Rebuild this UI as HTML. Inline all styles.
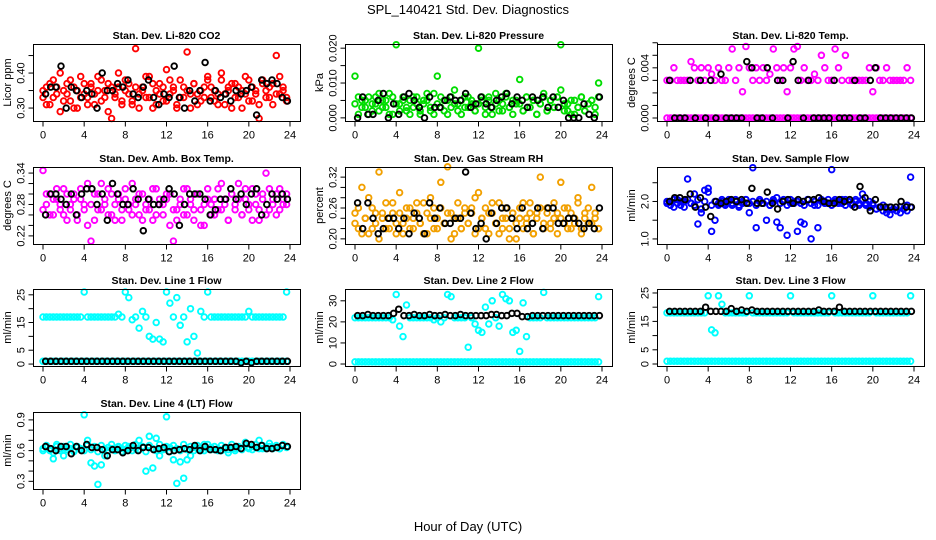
<!DOCTYPE html>
<html><head><meta charset="utf-8">
<style>
html,body{margin:0;padding:0;background:#fff;}
svg{display:block;font-family:"Liberation Sans",sans-serif;}
</style></head>
<body>
<svg id="chart" width="936" height="540" viewBox="0 0 936 540" xmlns="http://www.w3.org/2000/svg">
<rect x="0" y="0" width="936" height="540" fill="#fff"/>
<text x="468" y="14" font-size="13" text-anchor="middle">SPL_140421  Std. Dev. Diagnostics</text>
<text x="468" y="531" font-size="13" text-anchor="middle">Hour of Day (UTC)</text>
</svg>
<script>
// ---- data ----
const xTicks = [0,4,8,12,16,20,24];
const coA=[0.33,0.36,0.31,0.38,0.34,0.29,0.35,0.37,0.32,0.36,0.30,0.39,0.34,0.33,0.37,0.31,0.35,0.38,0.33,0.29,0.36,0.34,0.40,0.32,0.35,0.37,0.31,0.47,0.34,0.36,0.33,0.39,0.30,0.35,0.37,0.32,0.41,0.34,0.36,0.31,0.38,0.33,0.35,0.30,0.37,0.34,0.32,0.36,0.39,0.33,0.35,0.31,0.38,0.34,0.36,0.30,0.37,0.33,0.35,0.39,0.32,0.36,0.34,0.31,0.38,0.35,0.33,0.37,0.45,0.34,0.36,0.32];
const coB=[0.35,0.31,0.37,0.33,0.36,0.40,0.32,0.34,0.38,0.30,0.35,0.33,0.37,0.31,0.36,0.34,0.39,0.32,0.35,0.37,0.27,0.33,0.36,0.31,0.38,0.34,0.32,0.36,0.30,0.35,0.39,0.33,0.37,0.31,0.34,0.36,0.32,0.38,0.35,0.30,0.33,0.36,0.46,0.34,0.37,0.31,0.35,0.33,0.38,0.36,0.32,0.34,0.40,0.31,0.35,0.37,0.33,0.36,0.30,0.34,0.38,0.32,0.35,0.27,0.37,0.33,0.36,0.31,0.34,0.39,0.35,0.33];
const coK=[0.34,0.36,0.36,0.42,0.30,0.36,0.35,0.33,0.35,0.34,0.30,0.40,0.35,0.35,0.37,0.36,0.38,0.34,0.33,0.36,0.38,0.33,0.31,0.34,0.33,0.42,0.33,0.30,0.35,0.32,0.35,0.43,0.32,0.35,0.33,0.34,0.32,0.35,0.34,0.35,0.36,0.28,0.38,0.37,0.38,0.37,0.33,0.32];
const prA=[0.012,0.006,0.003,0.005,0.001,0.004,0.006,0.002,0.005,0.003,0.007,0.001,0.021,0.004,0.006,0.002,0.005,0.003,0.006,0.001,0.004,0.005,0.002,0.007,0.012,0.003,0.005,0.001,0.006,0.004,0.002,0.005,0.003,0.006,0.004,0.002,0.020,0.005,0.003,0.006,0.001,0.004,0.005,0.002,0.007,0.003,0.005,0.004,0.011,0.002,0.006,0.003,0.005,0.001,0.004,0.006,0.002,0.005,0.003,0.006,0.021,0.002,0.004,0.001,0.005,0.003,0.006,0.002,0.004,0.005,0.001,0.010];
const prB=[0.004,0.001,0.005,0.003,0.006,0.002,0.004,0.007,0.003,0.005,0.001,0.006,0.004,0.002,0.005,0.003,0.001,0.006,0.004,0.002,0.005,0.007,0.003,0.001,0.004,0.006,0.002,0.005,0.003,0.008,0.004,0.001,0.006,0.003,0.005,0.002,0.004,0.006,0.001,0.005,0.003,0.007,0.002,0.004,0.006,0.003,0.001,0.005,0.004,0.002,0.006,0.003,0.005,0.001,0.004,0.007,0.002,0.005,0.003,0.006,0.008,0.004,0.002,0.005,0.001,0.003,0.006,0.002,0.004,0.005,0.003,0.006];
const prK=[0.000,0.006,0.001,0.001,0.005,0.007,0.000,0.004,0.001,0.006,0.007,0.005,0.003,0.000,0.006,0.003,0.003,0.005,0.006,0.005,0.005,0.007,0.003,0.004,0.006,0.004,0.003,0.005,0.006,0.007,0.004,0.006,0.005,0.003,0.006,0.005,0.006,0.003,0.006,0.003,0.005,0.000,0.000,0.000,0.004,0.001,0.000,0.006];
const teA=[0.003,0.003,0.004,0.003,0.003,0.003,0.003,0.0045,0.004,0.003,0.004,0.003,0.004,0.0035,0.003,0.004,0.003,0.003,0.004,0.0055,0.003,0.004,0.0021,0.0057,0.004,0.003,0.004,0.003,0.004,0.003,0.0035,0.0055,0.004,0.003,0.004,0.0021,0.004,0.0055,0.0057,0.003,0.004,0.003,0.003,0.0035,0.003,0.005,0.004,0.003,0.003,0.0055,0.004,0.003,0.005,0.003,0.003,0.003,0.003,0.003,0.003,0.004,0.0021,0.004,0.003,0.003,0.004,0.003,0.003,0.003,0.003,0.003,0.004,0.003];
const teB=[0,0,0,0,0,0,0,0,0,0,0,0,0,0,0,0,0,0,0,0,0,0,0,0,0,0,0,0,0,0,0,0,0,0,0,0,0,0,0,0,0,0,0,0,0,0,0,0,0,0,0,0,0,0,0,0,0,0,0,0,0,0,0,0,0,0,0,0,0,0,0,0];
const teK=[0.003,0,0,0,0.003,0,0.003,0,0.003,0,0.0035,0,0,0,0,0.0045,0.004,0,0,0.004,0,0.003,0.003,0,0.0045,0.003,0,0.003,0,0,0,0,0.003,0,0,0,0.003,0,0,0.003,0.004,0,0,0,0,0,0,0];
const amA=[0.27,0.30,0.26,0.29,0.31,0.28,0.26,0.30,0.27,0.29,0.25,0.31,0.28,0.24,0.21,0.30,0.27,0.32,0.28,0.26,0.30,0.25,0.29,0.27,0.31,0.28,0.26,0.29,0.30,0.25,0.28,0.27,0.31,0.26,0.29,0.28,0.30,0.24,0.21,0.27,0.29,0.26,0.31,0.28,0.25,0.30,0.27,0.24,0.29,0.28,0.26,0.31,0.27,0.29,0.25,0.30,0.28,0.32,0.26,0.29,0.27,0.31,0.28,0.25,0.30,0.34,0.27,0.29,0.26,0.31,0.28,0.30];
const amB=[0.345,0.28,0.30,0.26,0.29,0.27,0.31,0.25,0.28,0.30,0.26,0.29,0.27,0.32,0.28,0.25,0.30,0.27,0.29,0.31,0.26,0.28,0.30,0.25,0.29,0.27,0.32,0.28,0.26,0.30,0.27,0.29,0.25,0.31,0.28,0.26,0.29,0.30,0.27,0.25,0.28,0.31,0.26,0.29,0.27,0.30,0.24,0.28,0.31,0.26,0.29,0.27,0.32,0.28,0.25,0.30,0.27,0.29,0.26,0.31,0.28,0.25,0.30,0.27,0.29,0.26,0.31,0.28,0.30,0.27,0.29,0.28];
const amK=[0.26,0.30,0.30,0.29,0.28,0.30,0.26,0.30,0.31,0.31,0.28,0.30,0.25,0.32,0.30,0.28,0.28,0.31,0.29,0.23,0.29,0.28,0.28,0.29,0.31,0.30,0.24,0.28,0.30,0.30,0.30,0.29,0.26,0.27,0.29,0.29,0.31,0.29,0.30,0.28,0.30,0.31,0.26,0.28,0.30,0.29,0.30,0.29];
const rhA=[0.23,0.26,0.21,0.24,0.28,0.22,0.25,0.20,0.24,0.27,0.22,0.25,0.23,0.29,0.21,0.24,0.26,0.22,0.25,0.23,0.27,0.21,0.24,0.26,0.22,0.31,0.23,0.25,0.20,0.24,0.27,0.22,0.25,0.23,0.26,0.21,0.29,0.24,0.22,0.25,0.27,0.23,0.21,0.24,0.26,0.22,0.25,0.20,0.24,0.27,0.23,0.25,0.21,0.24,0.26,0.22,0.25,0.23,0.27,0.21,0.24,0.26,0.22,0.25,0.23,0.28,0.22,0.24,0.26,0.23,0.25,0.22];
const rhB=[0.25,0.22,0.30,0.24,0.21,0.26,0.23,0.33,0.25,0.22,0.24,0.27,0.21,0.25,0.23,0.26,0.22,0.24,0.27,0.23,0.21,0.25,0.28,0.22,0.24,0.26,0.23,0.34,0.25,0.21,0.24,0.22,0.26,0.23,0.25,0.28,0.22,0.24,0.26,0.21,0.25,0.23,0.27,0.22,0.24,0.20,0.25,0.23,0.26,0.22,0.24,0.27,0.21,0.25,0.32,0.23,0.26,0.22,0.24,0.25,0.31,0.23,0.26,0.22,0.24,0.27,0.21,0.25,0.23,0.30,0.24,0.22];
const rhK=[0.27,0.22,0.27,0.24,0.21,0.22,0.24,0.24,0.22,0.24,0.21,0.25,0.24,0.21,0.27,0.24,0.26,0.23,0.23,0.24,0.24,0.33,0.25,0.22,0.23,0.20,0.25,0.23,0.26,0.26,0.24,0.22,0.26,0.22,0.23,0.26,0.22,0.26,0.26,0.23,0.23,0.24,0.24,0.23,0.22,0.23,0.22,0.26];
const sfA=[1.95,2.0,1.85,2.05,1.9,2.0,2.6,1.95,2.2,1.4,1.8,2.3,2.25,1.2,1.5,1.9,2.0,1.95,2.05,1.9,2.0,1.85,1.95,2.05,1.7,2.9,1.3,2.0,1.95,1.5,1.9,2.0,1.45,1.3,2.05,1.1,1.95,2.0,1.2,1.95,1.4,2.05,1.0,1.9,1.3,2.0,1.95,2.05,2.85,2.0,1.95,2.05,1.9,2.0,1.95,2.05,1.9,2.2,1.95,2.0,1.9,1.8,1.85,1.75,1.7,1.65,1.8,1.75,1.7,1.8,1.75,2.65];
const sfB=[2.0,1.9,2.05,1.95,2.0,1.85,2.05,1.95,1.9,2.05,1.7,2.0,2.35,1.9,2.0,1.95,2.05,1.9,2.0,1.95,2.05,1.9,2.0,2.05,1.95,2.0,1.9,2.05,1.95,2.0,1.9,2.05,2.1,1.95,2.0,1.9,2.05,1.95,2.0,1.45,1.9,2.05,1.95,2.0,1.9,2.05,2.0,1.95,1.9,2.05,2.0,1.95,2.05,2.0,1.9,2.0,1.95,2.05,1.9,1.85,1.95,1.8,1.85,1.9,1.8,1.85,1.8,1.75,1.85,1.8,1.9,1.85];
const sfK=[2.0,2.1,2.1,2.05,2.2,1.85,2.1,1.85,1.6,2.0,1.95,2.0,2.05,2.0,2.05,1.95,2.35,1.95,1.95,2.25,1.95,1.8,2.0,2.05,1.95,2.05,2.0,2.05,2.05,2.1,2.0,1.95,1.95,2.05,2.0,2.05,1.85,2.4,2.1,1.75,2.05,1.85,1.85,1.85,1.85,2.0,1.85,1.85];
const l1A=[17,17,17,17,17,17,17,17,17,17,17,17,26,17,17,17,17,17,17,17,17,17,18,17,26,24,16,17,13,19,17,10,9,15,9,8,26,22,17,24,14,17,8,20,10,4,19,17,26,17,17,17,17,17,17,17,17,17,17,17,19,17,17,17,17,17,17,17,17,17,17,26];
const l1B=[1,1,1,1,1,1,1,1,1,1,1,1,1,1,1,1,1,1,1,1,1,1,1,1,1,1,1,1,1,1,1,1,1,1,1,1,1,1,1,1,1,1,1,1,1,1,1,1,1,1,1,1,1,1,1,1,1,1,1,1,1,1,1,1,1,1,1,1,1,1,1,1];
const l1K=[1,1,1,1,1,1,1,1,1,1,1,1,1,1,1,1,1,1,1,1,1,1,1,1,1,1,1,1,1,1,1,1,1,1,1,1,1,1,0.5,1,0.5,1,1,1,1,1,1,1];
const l2A=[22,22,22,22,22,22,22,22,22,22,22,21,33,18,13,28,22,22,22,22,22,22,22,21,22,20,22,33,32,22,22,22,22,8,22,19,16,15,27,19,30,22,18,33,31,30,15,16,6,29,13,22,22,22,22,34,22,22,22,22,22,22,22,22,22,22,22,22,22,22,22,32];
const l2B=[1,1,1,1,1,1,1,1,1,1,1,1,1,1,1,1,1,1,1,1,1,1,1,1,1,1,1,1,1,1,1,1,1,1,1,1,1,1,1,1,1,1,1,1,1,1,1,1,1,1,1,1,1,1,1,1,1,1,1,1,1,1,1,1,1,1,1,1,1,1,1,1];
const l2K=[23,23,23.5,23,23,23,23,24,26,23,23,23.5,23,23,23.5,23,23,23.5,23,23,23.5,23,23,23,23,23,23.5,23.5,23,23,24,24,22.5,22.5,23,23,23,23,23,23,23,23,23,23,23,23,23,23];
const l3A=[18,18,18,18,18,18,18,18,18,18,18,18,24,12,11,24,21,18,18,18,18,18,18,18,24,18,18,18,18,18,18,18,18,18,18,18,24,18,18,18,18,18,18,18,18,18,18,18,24,18,18,18,18,18,18,18,18,18,18,18,24,18,18,18,18,18,18,18,18,18,18,24];
const l3B=[1,1,1,1,1,1,1,1,1,1,1,1,1,1,1,1,1,1,1,1,1,1,1,1,1,1,1,1,1,1,1,1,1,1,1,1,1,1,1,1,1,1,1,1,1,1,1,1,1,1,1,1,1,1,1,1,1,1,1,1,1,1,1,1,1,1,1,1,1,1,1,1];
const l3K=[18.5,18.5,18.5,18.5,18.5,18.5,18.5,20,18.5,18.5,18.5,18.5,19.5,18.5,19,18.5,19,18.5,18.5,18.5,18.5,18.5,18.5,18.5,18.5,18.5,18.5,18.5,18.5,19,18.5,18.5,18.5,20,18.5,18.5,18.5,18.5,18.5,18.5,18.5,18.5,18.5,18.5,18.5,18.5,18.5,18.5];
const l4A=[0.62,0.63,0.60,0.52,0.64,0.62,0.55,0.63,0.62,0.60,0.63,0.61,0.95,0.70,0.48,0.45,0.27,0.46,0.55,0.63,0.62,0.60,0.63,0.62,0.61,0.64,0.63,0.62,0.70,0.63,0.40,0.74,0.43,0.72,0.55,0.62,0.93,0.63,0.51,0.28,0.49,0.33,0.51,0.55,0.63,0.62,0.60,0.66,0.62,0.63,0.61,0.62,0.60,0.63,0.58,0.62,0.60,0.63,0.62,0.68,0.62,0.64,0.63,0.70,0.62,0.63,0.64,0.62,0.63,0.62,0.65,0.63];
const l4B=[0.60,0.65,0.62,0.58,0.66,0.60,0.64,0.61,0.66,0.59,0.64,0.62,0.60,0.66,0.61,0.64,0.59,0.65,0.62,0.60,0.66,0.61,0.64,0.59,0.65,0.62,0.60,0.66,0.61,0.64,0.59,0.65,0.62,0.60,0.66,0.61,0.64,0.59,0.65,0.62,0.60,0.66,0.61,0.64,0.60,0.65,0.62,0.60,0.66,0.61,0.64,0.60,0.65,0.62,0.61,0.66,0.62,0.64,0.61,0.65,0.63,0.61,0.66,0.62,0.65,0.62,0.67,0.63,0.65,0.62,0.66,0.64];
const l4K=[0.64,0.62,0.60,0.64,0.64,0.57,0.64,0.60,0.66,0.63,0.63,0.61,0.55,0.61,0.61,0.58,0.60,0.65,0.60,0.63,0.63,0.61,0.62,0.63,0.59,0.60,0.61,0.62,0.61,0.65,0.60,0.64,0.61,0.61,0.60,0.63,0.63,0.64,0.62,0.67,0.66,0.63,0.65,0.62,0.62,0.63,0.65,0.64];

const panels=[
 {name:'co2',title:'Stan. Dev. Li-820 CO2',yl:'Licor ppm',col:0,row:0,ymin:0.263,ymax:0.483,ticks:[0.30,0.35,0.40,0.45],labels:['0.30','','0.40',''],color:'#ff0000',series:[coA,coB],black:coK},
 {name:'pressure',title:'Stan. Dev. Li-820 Pressure',yl:'kPa',col:1,row:0,ymin:-0.0009,ymax:0.0212,ticks:[0,0.005,0.010,0.015,0.020],labels:['0.000','','0.010','','0.020'],color:'#00dd00',series:[prA,prB],black:prK},
 {name:'temp',title:'Stan. Dev. Li-820 Temp.',yl:'degrees C',col:2,row:0,ymin:-0.00024,ymax:0.0059,ticks:[0,0.001,0.002,0.003,0.004,0.005,0.006],labels:['0.000','','','','0.004','',''],color:'#ff00ff',series:[teA,teB],black:teK},
 {name:'amb-temp',title:'Stan. Dev. Amb. Box Temp.',yl:'degrees C',col:0,row:1,ymin:0.2045,ymax:0.3516,ticks:[0.22,0.24,0.26,0.28,0.30,0.32,0.34],labels:['0.22','','','0.28','','','0.34'],color:'#ff00ff',series:[amA,amB],black:amK},
 {name:'rh',title:'Stan. Dev. Gas Stream RH',yl:'percent',col:1,row:1,ymin:0.190,ymax:0.3397,ticks:[0.20,0.22,0.24,0.26,0.28,0.30,0.32],labels:['0.20','','','0.26','','','0.32'],color:'#f2a000',series:[rhA,rhB],black:rhK},
 {name:'sample-flow',title:'Stan. Dev. Sample Flow',yl:'ml/min',col:2,row:1,ymin:0.865,ymax:2.92,ticks:[1.0,1.5,2.0,2.5],labels:['1.0','','2.0',''],color:'#0000ff',series:[sfA,sfB],black:sfK},
 {name:'line1-flow',title:'Stan. Dev. Line 1 Flow',yl:'ml/min',col:0,row:2,ymin:-0.7,ymax:27.1,ticks:[0,5,10,15,20,25],labels:['0','5','','15','','25'],color:'#00ffff',series:[l1A,l1B],black:l1K},
 {name:'line2-flow',title:'Stan. Dev. Line 2 Flow',yl:'ml/min',col:1,row:2,ymin:-0.94,ymax:35.6,ticks:[0,10,20,30],labels:['0','10','20','30'],color:'#00ffff',series:[l2A,l2B],black:l2K},
 {name:'line3-flow',title:'Stan. Dev. Line 3 Flow',yl:'ml/min',col:2,row:2,ymin:-0.7,ymax:26.4,ticks:[0,5,10,15,20,25],labels:['0','5','','15','','25'],color:'#00ffff',series:[l3A,l3B],black:l3K},
 {name:'line4-flow',title:'Stan. Dev. Line 4 (LT) Flow',yl:'ml/min',col:0,row:3,ymin:0.225,ymax:0.977,ticks:[0.3,0.4,0.5,0.6,0.7,0.8,0.9],labels:['0.3','','','0.6','','','0.9'],color:'#00ffff',series:[l4A,l4B],black:l4K}
];

const NS='http://www.w3.org/2000/svg';
const svg=document.getElementById('chart');
const colX=[33,345,657], rowY=[44,167,289,412], BW=267, BH=77;
function mk(tag,attrs,parent){const e=document.createElementNS(NS,tag);for(const k in attrs)e.setAttribute(k,attrs[k]);parent.appendChild(e);return e;}

panels.forEach(p=>{
  const x0=colX[p.col], y0=rowY[p.row];
  const g=mk('g',{},svg);
  
  
  const xs=h=>x0+10+h/24*(BW-20);
  const ys=v=>y0+BH-(v-p.ymin)/(p.ymax-p.ymin)*BH;
  const t=mk('text',{x:x0+BW/2,y:y0-5,'font-size':10.5,'font-weight':'bold','text-anchor':'middle'},g);
  t.textContent=p.title;
  
  
  const pts=mk('g',{fill:'none','stroke-width':1.9},g);
  
  
  p.series.forEach(s=>{
    s.forEach((v,i)=>{
      const c=mk('circle',{cx:xs(i/3).toFixed(1),cy:ys(v).toFixed(1),r:2.8,stroke:p.color},pts);
      
      
    });
  });
  p.black.forEach((v,i)=>{
    const c=mk('circle',{cx:xs(i*0.5+0.25).toFixed(1),cy:ys(v).toFixed(1),r:2.8,stroke:'#000'},pts);
    
    
  });
  const b=mk('rect',{x:x0+0.5,y:y0+0.5,width:BW,height:BH,fill:'none',stroke:'#000','stroke-width':1},g);
  
  
  const xa=mk('g',{stroke:'#000','stroke-width':1},g);
  
  
  const yb=y0+BH+0.5;
  mk('line',{x1:xs(0),x2:xs(24),y1:yb,y2:yb},xa);
  xTicks.forEach(h=>{
    mk('line',{x1:xs(h),x2:xs(h),y1:yb,y2:yb+5},xa);
    const l=mk('text',{x:xs(h),y:yb+17,'font-size':11,'text-anchor':'middle',stroke:'none',fill:'#000'},xa);
    l.textContent=h;
    
    
  });
  const ya=mk('g',{stroke:'#000','stroke-width':1},g);
  
  
  const xl=x0+0.5;
  mk('line',{x1:xl,x2:xl,y1:ys(p.ticks[0]),y2:ys(p.ticks[p.ticks.length-1])},ya);
  p.ticks.forEach((v,i)=>{
    const y=ys(v);
    mk('line',{x1:xl-5,x2:xl,y1:y,y2:y},ya);
    if(p.labels[i]){
      const l=mk('text',{x:0,y:0,'font-size':11,'text-anchor':'middle',stroke:'none',fill:'#000',transform:`translate(${xl-9},${y}) rotate(-90)`},ya);
      l.textContent=p.labels[i];
      
      
    }
  });
  const yt=mk('text',{x:0,y:0,'font-size':11,'text-anchor':'middle',transform:`translate(${x0-22},${y0+BH/2}) rotate(-90)`},g);
  yt.textContent=p.yl;
  
  
});
</script>
</body></html>
